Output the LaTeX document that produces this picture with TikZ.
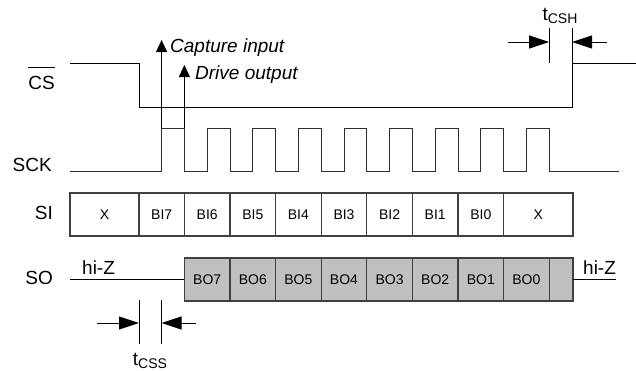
\documentclass[tikz,border=0pt]{standalone}
\usepackage{fontspec}
\setmainfont{Liberation Sans}
\definecolor{SpiBlack}{HTML}{000000}
\definecolor{SpiWire}{HTML}{2E2E2E}
\definecolor{SpiEdge}{HTML}{404040}
\definecolor{SpiGrey}{HTML}{C0C0C0}
\definecolor{SpiWhite}{HTML}{FFFFFF}
\usetikzlibrary{arrows.meta, positioning, calc}
\newcommand{\tsub}[1]{t\raisebox{-3pt}{\fontsize{14}{14}\selectfont #1}}
\tikzset{
    % Signal names on the left
    signal label/.style={
        anchor=base east,
        inner sep=0pt,
        font=\fontsize{19}{22}\selectfont
    },
    % Bit cells
    cell/.style={
        rectangle,
        draw=SpiEdge,
        fill=SpiWhite,
        line width=1.2pt,
        minimum width=45.6pt,
        minimum height=43pt,
        inner sep=0pt,
        outer sep=0pt,
        font=\fontsize{14}{16}\selectfont
    },
    cell grey/.style={
        cell,
        fill=SpiGrey
    },
    wave/.style={
        line width=1pt,
        SpiWire
    },
    note/.style={
        anchor=base west,
        inner sep=0pt,
        font=\fontsize{19}{22}\selectfont\itshape
    },
    event arrow/.style={
        -{Triangle[length=12pt, width=11pt]},
        line width=1pt,
        SpiBlack
    },
    dim arrow/.style={
        -{Triangle[length=20pt, width=13pt]},
        line width=1pt,
        SpiBlack
    }
}
\begin{document}
\begin{tikzpicture}[x=1pt, y=-1pt]
        \useasboundingbox (0,0) rectangle (636,370);

        % Signal names
        \node[signal label] (cs label) at (55,89) {$\overline{\rule{0pt}{20pt}\smash{\mbox{CS}}}$};
        \node[signal label] (sck label) at (52,171) {SCK};
        \node[signal label] (si label) at (53,219) {SI};
        \node[signal label] (so label) at (53,284) {SO};

        % Chip select
        \draw[wave, SpiBlack] (70,63) -- (139,63) -- (139,107) -- (572,107) -- (572,63) -- (636,63);

        % Serial clock
        \draw[wave] (70,171) foreach \i in {0,...,8} {
            -- (161.6+45.6*\i,171) -- (161.6+45.6*\i,128)
            -- (184.4+45.6*\i,128) -- (184.4+45.6*\i,171)
        } -- (619,171);

        % SI cells
        \node[cell, minimum width=69pt] (si x1) at (104.5,214.5) {X};
        \node[cell, minimum width=45.4pt] (bi7) at (161.7,214.5) {BI7};
        \node[cell] (bi6) at (207.2,214.5) {BI6};
        \node[cell] (bi5) at (252.8,214.5) {BI5};
        \node[cell] (bi4) at (298.4,214.5) {BI4};
        \node[cell] (bi3) at (344,214.5) {BI3};
        \node[cell] (bi2) at (389.6,214.5) {BI2};
        \node[cell] (bi1) at (435.2,214.5) {BI1};
        \node[cell] (bi0) at (480.8,214.5) {BI0};
        \node[cell, minimum width=69.4pt] (si x2) at (538.3,214.5) {X};

        % SO cells
        \node[cell grey] (bo7) at (207.2,279.5) {BO7};
        \node[cell grey] (bo6) at (252.8,279.5) {BO6};
        \node[cell grey] (bo5) at (298.4,279.5) {BO5};
        \node[cell grey] (bo4) at (344,279.5) {BO4};
        \node[cell grey] (bo3) at (389.6,279.5) {BO3};
        \node[cell grey] (bo2) at (435.2,279.5) {BO2};
        \node[cell grey] (bo1) at (480.8,279.5) {BO1};
        \node[cell grey] (bo0) at (526.4,279.5) {BO0};
        \node[cell grey, minimum width=23.8pt] (bo end) at (561.1,279.5) {};

        % High impedance
        \coordinate (so start) at (70,279.5);
        \coordinate (so stop) at (616,279.5);
        \draw[wave, SpiBlack] (so start) -- (bo7.west);
        \draw[wave, SpiBlack] (bo end.east) -- (so stop);
        \node[note, font=\fontsize{19}{22}\selectfont] (hiz left) at (82,274) {hi-Z};
        \node[note, font=\fontsize{19}{22}\selectfont] (hiz right) at (583,274) {hi-Z};

        % Clock events
        \coordinate (capture edge) at (161.6,128);
        \coordinate (drive edge) at (184.4,128);
        \draw[event arrow] (capture edge) -- ++(0,-88) coordinate (capture tip);
        \draw[event arrow] (drive edge) -- ++(0,-63) coordinate (drive tip);
        \node[note] (capture text) at (170,52) {Capture input};
        \node[note] (drive text) at (195,79) {Drive output};

        % Setup time
        \draw[line width=1pt] (139,300) -- (139,344);
        \draw[line width=1pt] (161.6,300) -- (161.6,344);
        \draw[dim arrow] (97,323) -- (139,323);
        \draw[dim arrow] (196,323) -- (161.6,323);
        \node[font=\fontsize{19}{22}\selectfont, anchor=base] (tcss) at (150,365) {\tsub{CSS}};

        % Hold time
        \draw[line width=1pt] (549.2,28) -- (549.2,63);
        \draw[line width=1pt] (572,28) -- (572,63);
        \draw[dim arrow] (508,42) -- (549.2,42);
        \draw[dim arrow] (607,42) -- (572,42);
        \node[font=\fontsize{19}{22}\selectfont, anchor=base] (tcsh) at (560,20) {\tsub{CSH}};
    \end{tikzpicture}
\end{document}
